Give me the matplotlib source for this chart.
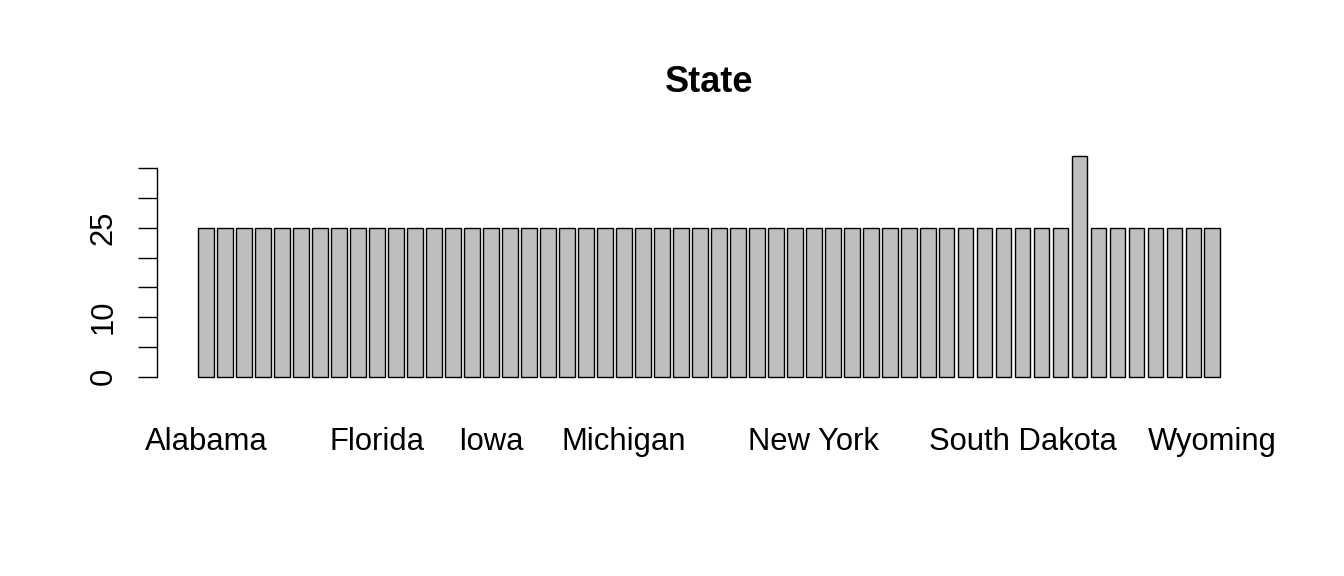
import matplotlib
matplotlib.use('Agg')
import matplotlib.pyplot as plt

# one bar per state / territory, alphabetical (R barplot of table(State))
states = ['Alabama', 'Alaska', 'Arizona', 'Arkansas', 'California', 'Colorado',
          'Connecticut', 'Delaware', 'District of Columbia', 'Florida', 'Georgia',
          'Hawaii', 'Idaho', 'Illinois', 'Indiana', 'Iowa', 'Kansas', 'Kentucky',
          'Louisiana', 'Maine', 'Maryland', 'Massachusetts', 'Michigan', 'Minnesota',
          'Mississippi', 'Missouri', 'Montana', 'Nebraska', 'Nevada', 'New Hampshire',
          'New Jersey', 'New Mexico', 'New York', 'North Carolina', 'North Dakota',
          'Northern Mariana Islands', 'Ohio', 'Oklahoma', 'Oregon', 'Pennsylvania',
          'Puerto Rico', 'Rhode Island', 'South Carolina', 'South Dakota', 'Tennessee',
          'Texas', 'Utah', 'Vermont', 'Virgin Islands', 'Virginia', 'Washington',
          'West Virginia', 'Wisconsin', 'Wyoming']
counts = [25, 25, 25, 25, 25, 25, 25, 25, 25, 25,
          25, 25, 25, 25, 25, 25, 25, 25, 25, 25,
          25, 25, 25, 25, 25, 25, 25, 25, 25, 25,
          25, 25, 25, 25, 25, 25, 25, 25, 25, 25,
          25, 25, 25, 25, 25, 25, 37, 25, 25, 25,
          25, 25, 25, 25]
# the names R had room to print
shown_names = ['Alabama', 'Florida', 'Iowa', 'Michigan', 'New York', 'South Dakota', 'Wyoming']
y_ticks = [0, 5, 10, 15, 20, 25, 30, 35]
y_labels = ['0', '', '10', '', '', '25', '', '']

plt.rcParams['font.family'] = ['Liberation Sans', 'DejaVu Sans']

fig = plt.figure(figsize=(13.44, 5.76), dpi=100)
ax = fig.add_axes([0.11704, 0.33073, 0.82135, 0.41337])

# R barplot geometry: width 1, space 0.2
pos = [0.7 + 1.2 * i for i in range(len(states))]
ax.bar(pos, counts, width=1.0, color='#bebebe', edgecolor='black', linewidth=1.0)

lo, hi = 0.2, pos[-1] + 0.5
pad = 0.04 * (hi - lo)
ax.set_xlim(lo - pad, hi + pad)
ymax = max(counts)
ax.set_ylim(-0.04 * ymax, ymax * 1.04)

for s in ['top', 'right', 'bottom']:
    ax.spines[s].set_visible(False)
ax.spines['left'].set_bounds(0, 35)
ax.spines['left'].set_linewidth(1.0)

ax.set_yticks(y_ticks)
ax.set_yticklabels(y_labels, rotation=90, va='center', fontsize=22.3)
ax.tick_params(axis='y', direction='out', length=13.7, width=1.0, pad=14)

ax.set_xticks([pos[states.index(n)] for n in shown_names])
ax.set_xticklabels(shown_names, fontsize=22.3)
ax.tick_params(axis='x', length=0, pad=30)

ax.set_title('State', fontsize=26, fontweight='bold', pad=40)

plt.savefig('out.png', dpi=100)
